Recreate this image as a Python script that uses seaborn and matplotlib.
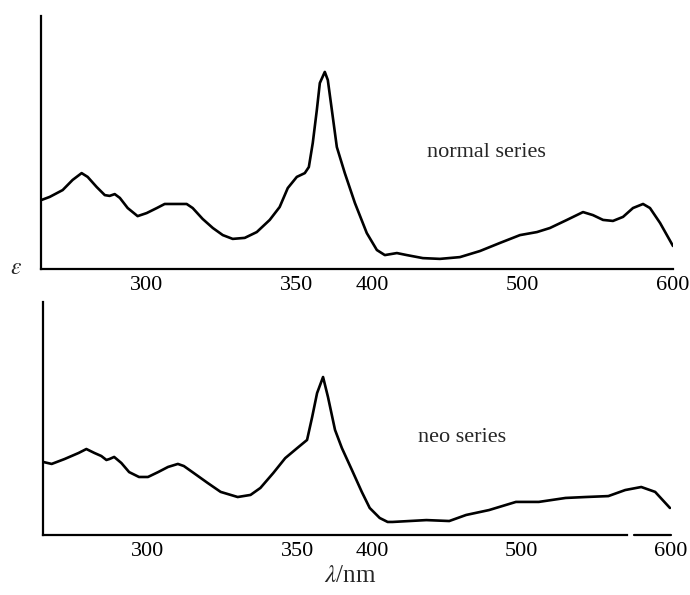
import matplotlib
matplotlib.use("Agg")
import matplotlib.pyplot as plt
import seaborn as sns
import numpy as np
import pandas as pd

# wavelength (nm) and absorbance (arbitrary units)
normal_wl = [265.2, 267.9, 272.2, 275.5, 278.5, 280.5, 283.5, 286.2, 287.8, 289.5,
             291.2, 293.8, 297.1, 300.1, 303.5, 306.1, 313.4, 315.4, 318.7, 322.1,
             325.4, 328.7, 332.7, 336.7, 341.0, 344.3, 347.0, 350.0, 355.3, 358.0,
             360.6, 363.3, 365.3, 368.6, 370.6, 373.3, 376.6, 381.9, 388.6, 396.5,
             403.2, 408.5, 416.5, 423.1, 433.8, 445.1, 458.4, 471.7, 485.0, 498.3,
             509.6, 518.2, 529.5, 540.2, 546.8, 553.5, 560.1, 566.8, 573.4, 580.1,
             584.7, 591.4, 600.0]
normal_eps = [27.3, 28.5, 31.2, 35.2, 37.9, 36.4, 32.4, 29.2, 28.9, 29.6,
              28.1, 24.1, 20.9, 22.1, 24.1, 25.7, 25.7, 24.1, 19.8, 16.2,
              13.4, 11.9, 12.3, 14.6, 19.4, 24.5, 32.0, 36.4, 37.9, 40.3,
              49.8, 62.8, 73.5, 77.9, 74.7, 62.8, 48.2, 37.9, 26.1, 14.2,
              7.5, 5.5, 6.3, 5.5, 4.3, 4.0, 4.7, 7.1, 10.3, 13.4,
              14.6, 16.2, 19.4, 22.5, 21.3, 19.4, 19.0, 20.6, 24.1, 25.7,
              24.1, 18.2, 9.1]

neo_wl = [265.2, 267.9, 272.2, 276.9, 279.5, 282.2, 284.5, 286.2, 287.2, 288.8,
          291.2, 293.8, 297.1, 300.1, 303.5, 306.8, 310.1, 312.1, 315.4, 320.1,
          324.4, 330.1, 334.4, 337.7, 342.0, 346.0, 350.0, 356.6, 360.0, 363.3,
          367.3, 370.6, 375.3, 379.9, 386.6, 393.2, 398.5, 405.2, 410.5, 413.8,
          425.1, 436.4, 451.7, 463.0, 478.3, 496.3, 511.6, 529.5, 542.8, 558.1,
          569.4, 580.1, 589.4, 599.3]
neo_eps = [31.3, 30.5, 32.6, 35.2, 36.9, 35.2, 33.9, 32.2, 32.6, 33.5,
           30.9, 27.0, 24.9, 24.9, 27.0, 29.2, 30.5, 29.6, 26.6, 22.3,
           18.5, 16.3, 17.2, 20.2, 26.6, 33.0, 37.3, 40.8, 50.6, 60.9,
           67.8, 59.2, 45.1, 37.3, 27.9, 18.5, 11.6, 7.3, 5.6, 5.6,
           6.0, 6.4, 6.0, 8.6, 10.7, 14.2, 14.2, 15.9, 16.3, 16.7,
           19.3, 20.6, 18.5, 11.6]

tick_wl = [300, 350, 400, 500, 600]
series_names = ["normal series", "neo series"]

sns.set_style("white")
plt.rcParams["font.family"] = ["Liberation Serif", "DejaVu Serif"]
plt.rcParams["mathtext.fontset"] = "stix"


# the recorder scale is doubled below 350 nm
def fwd(x):
    x = np.asarray(x, dtype=float)
    return np.where(x <= 350, 2 * (x - 350), x - 350)


def inv(u):
    u = np.asarray(u, dtype=float)
    return np.where(u <= 0, 350 + u / 2, 350 + u)


W, H = 690, 595
fig = plt.figure(figsize=(W / 100, H / 100), dpi=100)
ax1 = fig.add_axes([41 / W, 1 - 269 / H, (673 - 41) / W, (269 - 16) / H])
ax2 = fig.add_axes([43 / W, 1 - 535 / H, (671 - 43) / W, (535 - 302) / H])

panels = [(ax1, normal_wl, normal_eps), (ax2, neo_wl, neo_eps)]
for ax, wl, eps in panels:
    df = pd.DataFrame({"wl": wl, "eps": eps})
    sns.lineplot(data=df, x="wl", y="eps", ax=ax, color="black", lw=1.9, sort=False)
    ax.lines[-1].set_solid_joinstyle("round")
    ax.set_xscale("function", functions=(fwd, inv))
    ax.set_xlim(265, 600)
    ax.set_ylim(0, 100)
    ax.set_xticks(tick_wl)
    ax.set_xticklabels([str(t) for t in tick_wl], fontsize=16)
    ax.minorticks_off()
    ax.set_yticks([])
    ax.set_xlabel("")
    ax.set_ylabel("")
    ax.tick_params(axis="x", direction="in", length=9, width=1.5, pad=5, colors="black")
    for s in ["top", "right"]:
        ax.spines[s].set_visible(False)
    for s in ["left", "bottom"]:
        ax.spines[s].set_linewidth(1.6)
        ax.spines[s].set_color("black")

# small break in the lower wavelength axis
ax2.spines["bottom"].set_bounds(265, 570.5)
ax2.plot([575.5, 600], [0, 0], color="black", lw=1.6, clip_on=False)

ax1.text(476, 46, series_names[0], fontsize=16, ha="center", va="center")
ax2.text(460, 42, series_names[1], fontsize=16, ha="center", va="center")

fig.text(16 / W, 1 - 268 / H, r"$\epsilon$", fontsize=17, ha="center", va="center")
fig.text(350 / W, 1 - 576 / H, r"$\lambda$/nm", fontsize=18, ha="center", va="center")

fig.savefig("out.png", dpi=100, facecolor="white")
